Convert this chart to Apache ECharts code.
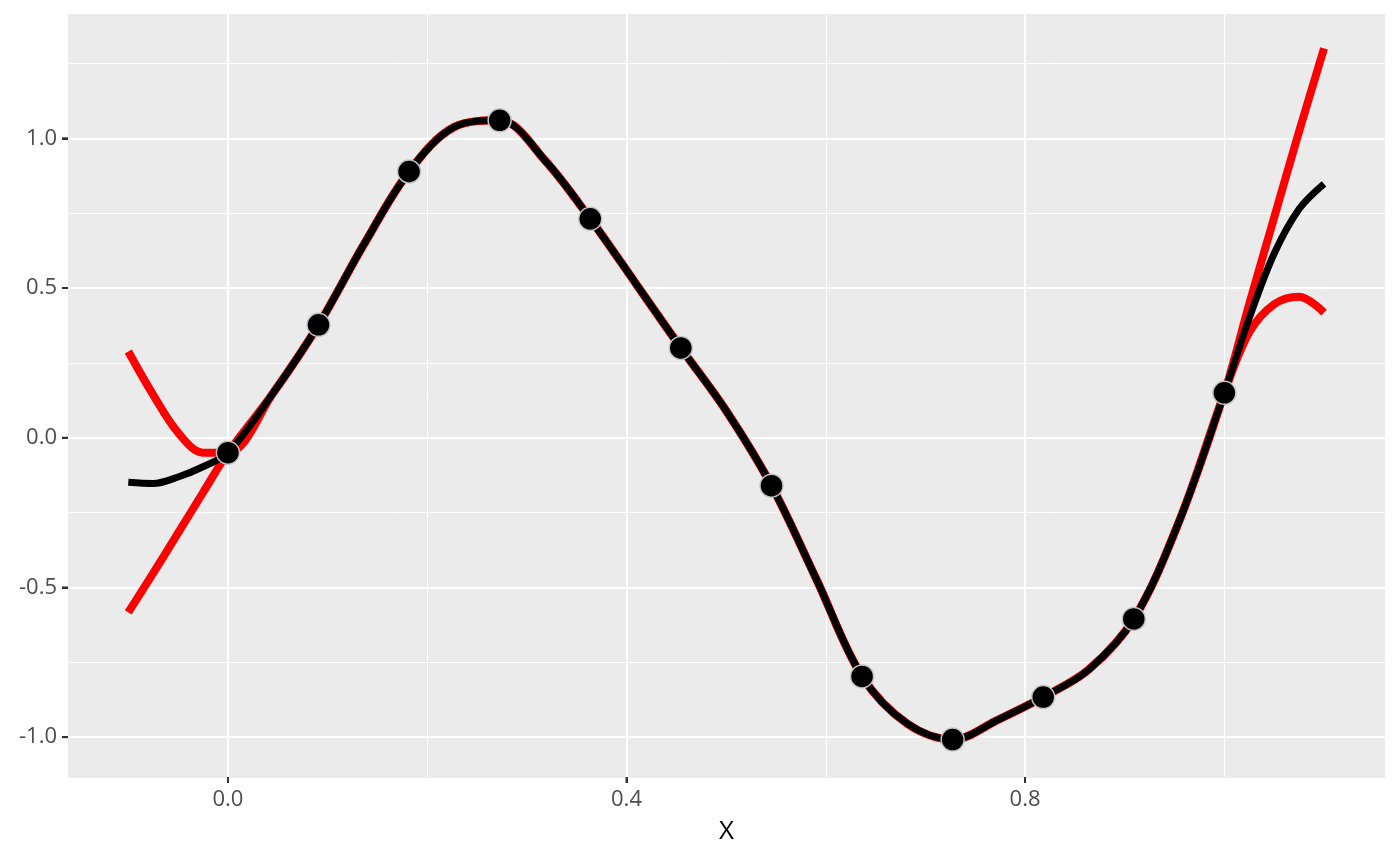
<!DOCTYPE html>
<html>
<head>
<meta charset="utf-8">
<script src="https://cdn.jsdelivr.net/npm/echarts@6/dist/echarts.min.js"></script>
<style>
html,body{margin:0;padding:0;background:#fff;}
#chart{width:1400px;height:866px;}
</style>
</head>
<body>
<div id="chart"></div>
<script>
// ---- data ----
const knotX = [0, 0.0909, 0.1818, 0.2727, 0.3636, 0.4545, 0.5455, 0.6364, 0.7273, 0.8182, 0.9091, 1.0];
const knotY = [-0.050, 0.377, 0.889, 1.060, 0.731, 0.300, -0.160, -0.797, -1.008, -0.866, -0.605, 0.150];

// shared middle part of all three curves (knots and the points half-way between them)
const midX = [0, 0.0455, 0.0909, 0.1364, 0.1818, 0.2273, 0.2727, 0.3182, 0.3636, 0.4091, 0.4545, 0.5, 0.5455, 0.5909, 0.6364, 0.6818, 0.7273, 0.7727, 0.8182, 0.8636, 0.9091, 0.9545, 1.0];
const midY = [-0.050, 0.150, 0.377, 0.645, 0.889, 1.038, 1.060, 0.926, 0.731, 0.516, 0.300, 0.090, -0.160, -0.475, -0.797, -0.955, -1.008, -0.942, -0.866, -0.775, -0.605, -0.280, 0.150];

// black curve ends
const blackLeftX = [-0.1, -0.075, -0.05, -0.025];
const blackLeftY = [-0.149, -0.153, -0.131, -0.097];
const blackRightX = [1.025, 1.05, 1.075, 1.1];
const blackRightY = [0.400, 0.615, 0.764, 0.848];

// red curve A ends
const redALeftX = [-0.1, -0.075, -0.05, -0.025];
const redALeftY = [0.288, 0.143, 0.017, -0.050];
const redARightX = [1.025, 1.05, 1.075, 1.1];
const redARightY = [0.447, 0.736, 1.023, 1.300];

// red curve B ends
const redBLeftX = [-0.1, -0.075, -0.05, -0.025];
const redBLeftY = [-0.583, -0.452, -0.318, -0.183];
const redBRightX = [1.025, 1.05, 1.075, 1.1];
const redBRightY = [0.352, 0.446, 0.471, 0.418];

// axis ticks
const xMajorTicks = [0, 0.4, 0.8];
const xMinorTicks = [0.2, 0.6, 1.0];
const yMajorTicks = [-1.0, -0.5, 0.0, 0.5, 1.0];
const yMinorTicks = [-0.75, -0.25, 0.25, 0.75, 1.25];
const xTitle = 'X';

// ---- build ----
const pairs = (xs, ys) => xs.map((x, i) => [x, ys[i]]);
const curve = (lx, ly, rx, ry) => pairs(lx, ly).concat(pairs(midX, midY), pairs(rx, ry));

const chart = echarts.init(document.getElementById('chart'), null, {renderer: 'canvas'});
const font = '"Open Sans", "Noto Sans", sans-serif';
const xMin = -0.1605, xMax = 1.1612, yMin = -1.133, yMax = 1.415;
const tickColor = '#333333';
const labelColor = '#4d4d4d';

const lineSeries = (name, data, color, width, z) => ({
  name, type: 'line', data, smooth: 0.34, showSymbol: false, symbol: 'none',
  lineStyle: {color, width, cap: 'butt', join: 'round'}, z, silent: true,
  xAxisIndex: 0, yAxisIndex: 0, animation: false
});

chart.setOption({
  animation: false,
  grid: {left: 68, right: 15, top: 14, bottom: 89, show: true, backgroundColor: '#ebebeb', borderWidth: 0},
  xAxis: [
    {
      type: 'value', min: xMin, max: xMax, position: 'bottom',
      axisLine: {show: true, onZero: false, lineStyle: {color: '#ebebeb', width: 1}},
      axisTick: {show: true, length: 6, customValues: xMajorTicks, lineStyle: {color: tickColor, width: 2}},
      axisLabel: {
        customValues: xMajorTicks, margin: 0,
        formatter: v => '{t|}\n{v|' + v.toFixed(1) + '}',
        rich: {
          t: {width: 2, height: 6, lineHeight: 6, backgroundColor: tickColor, align: 'center'},
          v: {color: labelColor, fontSize: 22, fontFamily: font, lineHeight: 34, align: 'center'}
        }
      },
      splitLine: {show: true, lineStyle: {color: '#ffffff', width: 2}},
      name: xTitle, nameLocation: 'middle', nameGap: 42,
      nameTextStyle: {color: '#000000', fontSize: 26, fontFamily: font}
    },
    {
      type: 'value', min: xMin, max: xMax, position: 'top',
      axisLine: {show: false, onZero: false},
      axisTick: {show: false, customValues: xMinorTicks},
      axisLabel: {show: false, customValues: xMinorTicks},
      splitLine: {show: true, lineStyle: {color: '#ffffff', width: 1}}
    }
  ],
  yAxis: [
    {
      type: 'value', min: yMin, max: yMax, position: 'left',
      axisLine: {show: true, onZero: false, lineStyle: {color: '#ebebeb', width: 1}},
      axisTick: {show: true, length: 6, customValues: yMajorTicks, lineStyle: {color: tickColor, width: 2}},
      axisLabel: {
        customValues: yMajorTicks, margin: 0,
        formatter: v => '{v|' + v.toFixed(1) + '}{t|}',
        rich: {
          v: {color: labelColor, fontSize: 22, fontFamily: font, padding: [0, 5, 0, 0], verticalAlign: 'middle'},
          t: {width: 6, height: 2, backgroundColor: tickColor, verticalAlign: 'middle'}
        }
      },
      splitLine: {show: true, lineStyle: {color: '#ffffff', width: 2}}
    },
    {
      type: 'value', min: yMin, max: yMax, position: 'right',
      axisLine: {show: false, onZero: false},
      axisTick: {show: false, customValues: yMinorTicks},
      axisLabel: {show: false, customValues: yMinorTicks},
      splitLine: {show: true, lineStyle: {color: '#ffffff', width: 1}}
    }
  ],
  series: [
    lineSeries('redA', curve(redALeftX, redALeftY, redARightX, redARightY), '#ff0000', 8, 2),
    lineSeries('redB', curve(redBLeftX, redBLeftY, redBRightX, redBRightY), '#ff0000', 8, 2),
    lineSeries('black', curve(blackLeftX, blackLeftY, blackRightX, blackRightY), '#000000', 7, 3),
    {
      name: 'points', type: 'scatter', data: pairs(knotX, knotY), symbol: 'circle', symbolSize: 23,
      itemStyle: {color: '#000000', borderColor: '#c4c4c4', borderWidth: 1.5, opacity: 1},
      z: 4, silent: true, xAxisIndex: 0, yAxisIndex: 0, animation: false
    }
  ]
});
</script>
</body>
</html>
